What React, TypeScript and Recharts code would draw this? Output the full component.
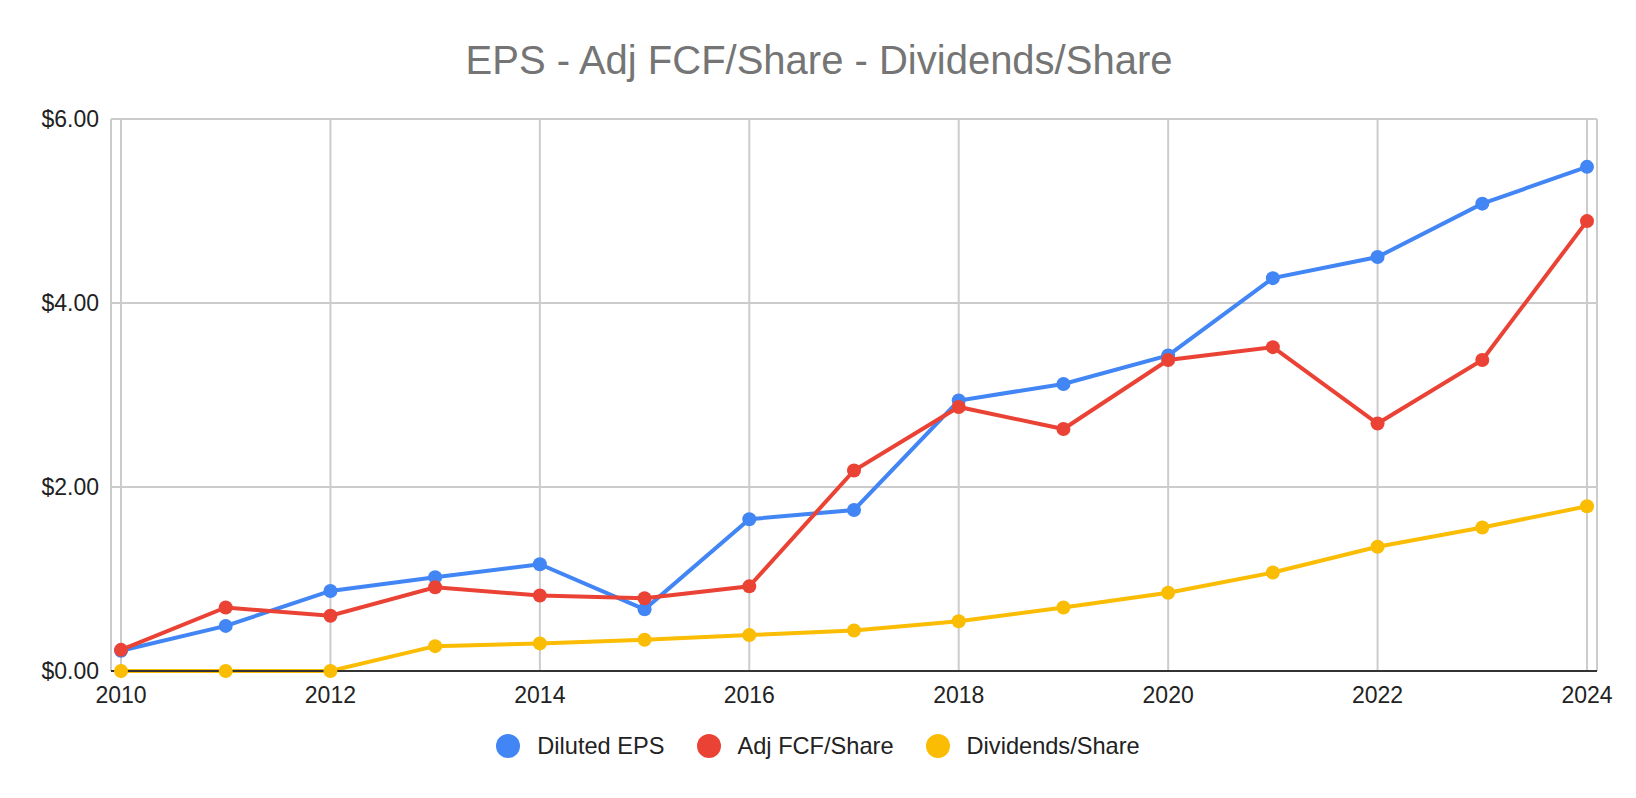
import { LineChart, Line, XAxis, YAxis, CartesianGrid } from "recharts"

const years = [2010, 2011, 2012, 2013, 2014, 2015, 2016, 2017, 2018, 2019, 2020, 2021, 2022, 2023, 2024]
const dilutedEps = [0.22, 0.49, 0.87, 1.02, 1.16, 0.67, 1.65, 1.75, 2.94, 3.12, 3.43, 4.27, 4.5, 5.08, 5.48]
const adjFcfPerShare = [0.23, 0.69, 0.6, 0.91, 0.82, 0.79, 0.92, 2.18, 2.87, 2.63, 3.38, 3.52, 2.69, 3.38, 4.89]
const dividendsPerShare = [0, 0, 0, 0.27, 0.3, 0.34, 0.39, 0.44, 0.54, 0.69, 0.85, 1.07, 1.35, 1.56, 1.79]

const xTicks = [2010, 2012, 2014, 2016, 2018, 2020, 2022, 2024]
const yTicks = [0, 2, 4, 6]

const series = [
  { key: "eps", name: "Diluted EPS", color: "#4285F4" },
  { key: "fcf", name: "Adj FCF/Share", color: "#EA4335" },
  { key: "div", name: "Dividends/Share", color: "#FBBC04" },
]

const data = years.map((year, i) => ({
  year,
  eps: dilutedEps[i],
  fcf: adjFcfPerShare[i],
  div: dividendsPerShare[i],
}))

const font = '"Liberation Sans", Arial, sans-serif'

export default function App() {
  return (
    <div
      style={{
        position: "absolute",
        left: 0,
        top: 0,
        width: 1636,
        height: 798,
        background: "#fff",
        fontFamily: font,
      }}
    >
      <div
        style={{
          position: "absolute",
          top: 40,
          left: 0,
          width: 1638,
          textAlign: "center",
          fontSize: 40,
          lineHeight: "40px",
          color: "#757575",
        }}
      >
        EPS - Adj FCF/Share - Dividends/Share
      </div>

      <LineChart
        width={1636}
        height={798}
        data={data}
        margin={{ top: 119, right: 39, bottom: 97, left: 0 }}
      >
        <CartesianGrid stroke="#cccccc" strokeWidth={2} />
        <XAxis
          dataKey="year"
          type="number"
          domain={[2010, 2024]}
          ticks={xTicks}
          padding={{ left: 10, right: 10 }}
          height={30}
          tickLine={false}
          tickSize={0}
          tickMargin={16}
          axisLine={{ stroke: "#333333", strokeWidth: 2 }}
          tick={{ fill: "#222222", fontSize: 23, fontFamily: font }}
        />
        <YAxis
          type="number"
          domain={[0, 6]}
          ticks={yTicks}
          width={111}
          axisLine={false}
          tickLine={false}
          tickSize={0}
          tickMargin={12}
          tick={{ fill: "#222222", fontSize: 23, fontFamily: font }}
          tickFormatter={(v: number) => `$${v.toFixed(2)}`}
        />
        {series.map((s) => (
          <Line
            key={s.key}
            type="linear"
            dataKey={s.key}
            name={s.name}
            stroke={s.color}
            strokeWidth={4}
            dot={{ r: 7, fill: s.color, stroke: s.color, strokeWidth: 0 }}
            activeDot={false}
            isAnimationActive={false}
          />
        ))}
      </LineChart>

      <div
        style={{
          position: "absolute",
          top: 733.8,
          left: 0,
          width: 1636,
          display: "flex",
          justifyContent: "center",
          alignItems: "center",
          height: 24,
        }}
      >
        {series.map((s, i) => (
          <div
            key={s.key}
            style={{
              display: "flex",
              alignItems: "center",
              marginLeft: i === 0 ? 0 : 32,
            }}
          >
            <span
              style={{
                width: 24,
                height: 24,
                borderRadius: "50%",
                background: s.color,
                display: "inline-block",
                marginRight: 17,
              }}
            />
            <span style={{ fontSize: 23.6, lineHeight: "24px", color: "#222222" }}>
              {s.name}
            </span>
          </div>
        ))}
      </div>
    </div>
  )
}
